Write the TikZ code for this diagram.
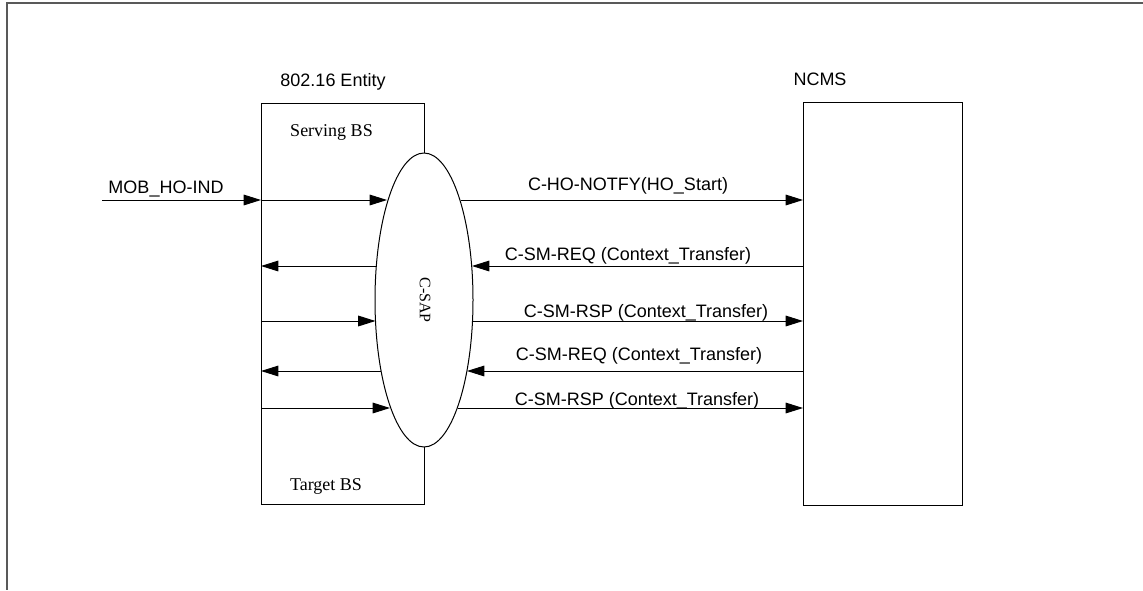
\documentclass[tikz,border=0pt]{standalone}
\usepackage{fontspec}
\setmainfont{Liberation Sans}
\newfontfamily\serifbs{Liberation Serif}
\usetikzlibrary{shapes.geometric,arrows.meta,calc}
\begin{document}
\begin{tikzpicture}[x=0.75pt,y=-0.75pt,
  line width=0.75pt,
  box/.style={draw,rectangle,inner sep=0pt,outer sep=0pt},
  msg/.style={-{Triangle[length=13pt,width=8pt]}},
  lbl/.style={anchor=base,inner sep=0pt,font=\fontsize{13.5}{15}\selectfont},
  slbl/.style={anchor=base,inner sep=0pt,font=\serifbs\fontsize{13.5}{15}\selectfont},
  frame/.style={draw=black!65,line width=1.2pt}]
\useasboundingbox (0,0) rectangle (1143,590);
% frame
\coordinate (ftl) at (7,3);
\coordinate (ftr) at (1143,3);
\coordinate (fbl) at (7,590);
\draw[frame] (ftr) -- (ftl) -- (fbl);
% entity box
\node[box,minimum width=122.25pt,minimum height=300.75pt] (ent) at (342.5,303.5) {};
% C-SAP ellipse
\node[draw,ellipse,fill=white,inner sep=0pt,minimum width=73.5pt,minimum height=220.5pt] (csap) at (424,300) {};
\node[rotate=-90,inner sep=0pt,font=\serifbs\fontsize{12}{14}\selectfont] (csapt) at (425,300) {C-SAP};
% NCMS box
\node[box,minimum width=119.25pt,minimum height=302.25pt] (ncms) at (882.5,303.5) {};
% titles
\node[lbl] (entt) at (333,86) {802.16 Entity};
\node[lbl] (ncmst) at (820,85) {NCMS};
\node[slbl] (serv) at (331.5,136) {Serving BS};
\node[slbl] (targ) at (326,490) {Target BS};
% ellipse boundary points
\coordinate (eL1) at ($(csap.center)+(-37,-100)$);
\coordinate (eR1) at ($(csap.center)+(37,-100)$);
\coordinate (eL2) at ($(csap.center)+(-48,-34)$);
\coordinate (eR2) at ($(csap.center)+(48,-34)$);
\coordinate (eL3) at ($(csap.center)+(-48.5,21)$);
\coordinate (eR3) at ($(csap.center)+(48.5,21)$);
\coordinate (eL4) at ($(csap.center)+(-43,71)$);
\coordinate (eR4) at ($(csap.center)+(43,71)$);
\coordinate (eL5) at ($(csap.center)+(-34,108)$);
\coordinate (eR5) at ($(csap.center)+(34,108)$);
\coordinate (mobs) at (102,200);
% messages
\draw[msg] (mobs) -- (ent.west |- mobs);
\node[lbl] (mobt) at (166,193) {MOB\_HO-IND};
\draw[msg] (ent.west |- eL1) -- (eL1);
\draw[msg] (eR1) -- (ncms.west |- eR1);
\node[lbl] (m1) at (628,190) {C-HO-NOTFY(HO\_Start)};
\draw[msg] (ncms.west |- eR2) -- (eR2);
\draw[msg] (eL2) -- (ent.west |- eL2);
\node[lbl] (m2) at (628,260) {C-SM-REQ (Context\_Transfer)};
\draw[msg] (ent.west |- eL3) -- (eL3);
\draw[msg] (eR3) -- (ncms.west |- eR3);
\node[lbl] (m3) at (646,317) {C-SM-RSP (Context\_Transfer)};
\draw[msg] (ncms.west |- eR4) -- (eR4);
\draw[msg] (eL4) -- (ent.west |- eL4);
\node[lbl] (m4) at (639,360) {C-SM-REQ (Context\_Transfer)};
\draw[msg] (ent.west |- eL5) -- (eL5);
\draw[msg] (eR5) -- (ncms.west |- eR5);
\node[lbl] (m5) at (637,405) {C-SM-RSP (Context\_Transfer)};
\end{tikzpicture}
\end{document}
